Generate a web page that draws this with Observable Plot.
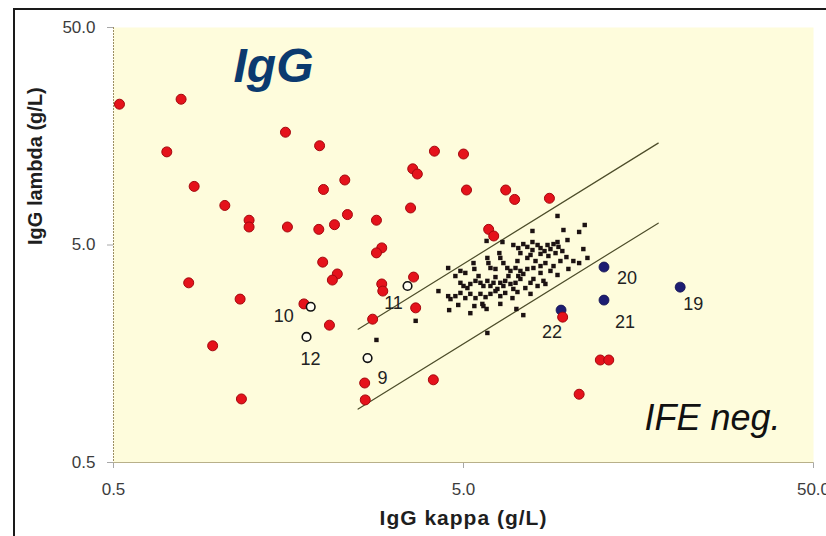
<!DOCTYPE html>
<html><head><meta charset="utf-8">
<script src="https://cdn.jsdelivr.net/npm/d3@7"></script>
<script src="https://cdn.jsdelivr.net/npm/@observablehq/plot@0.6"></script>
<style>
html,body{margin:0;padding:0;background:#fff;overflow:hidden;width:826px;height:536px;}
#wrap{position:relative;width:826px;height:536px;overflow:hidden;}
#chart{position:absolute;left:0;top:0;}
#border{position:absolute;left:13px;top:8px;width:900px;height:600px;border:2px solid #1a1a1a;box-sizing:border-box;pointer-events:none;}
#chart svg g[aria-label="x-axis"] line, #chart svg g[aria-label="y-axis"] line,
#chart svg g[aria-label="x-axis tick"] path, #chart svg g[aria-label="y-axis tick"] path {stroke:#a8a8a8;}
</style></head>
<body><div id="wrap"><div id="chart"></div><div id="border"></div></div>
<script>
// Axis ticks (g/L)
const xTicks = [0.5, 5, 50];
const yTicks = [0.5, 5, 50];
const xLabel = "IgG kappa (g/L)";
const yLabel = "IgG lambda (g/L)";
const titleText = "IgG";
const noteText = "IFE neg.";

// Reference ratio lines (kappa endpoints, lambda endpoints)
const refKappa = [2.5, 18];
const upperLambda = [2.05, 14.7];
const lowerLambda = [0.88, 6.3];

// Red points (patients)
const redKappa = [0.52,0.78,0.71,0.85,1.04,1.22,1.22,1.57,1.55,1.94,1.99,2.29,1.93,2.14,2.33,2.82,3.58,3.69,3.53,2.92,2.82,1.98,2.18,2.11,4.13,5.0,5.1,6.6,7.0,8.8,5.9,6.1,0.82,1.15,0.96,1.16,1.75,2.07,2.75,2.61,2.62,3.6,2.92,2.94,3.65,4.1,9.6,12.3,13.0,10.7];
const redLambda = [22.2,23.4,13.4,9.3,7.6,6.5,6.05,6.05,16.5,14.3,9.0,9.95,5.9,6.2,6.9,6.5,11.2,10.6,7.4,4.85,4.6,4.17,3.68,3.45,13.5,13.1,8.95,8.95,8.1,8.2,5.9,5.5,3.35,2.82,1.72,0.98,2.68,2.14,2.28,1.16,0.97,3.56,3.31,3.07,2.57,1.2,2.33,1.48,1.48,1.03];

// Blue labelled points
const blueLabels = ["19","20","21","22"];
const blueKappa = [20.8, 12.6, 12.6, 9.5];
const blueLambda = [3.2, 3.96, 2.79, 2.51];

// Open-circle labelled points
const openLabels = ["9","10","11","12"];
const openKappa = [2.66, 1.83, 3.46, 1.78];
const openLambda = [1.51, 2.6, 3.24, 1.89];

// Normal population (black squares)
const normKappa = [9.28,7.87,9.65,10.7,11.1,5.82,6.46,7.87,9.28,9.91,11.0,11.3,6.94,7.17,7.41,7.61,7.87,8.14,8.30,8.52,8.69,8.86,9.04,9.34,7.27,7.77,8.30,8.74,9.16,9.58,9.84,10.3,10.7,9.46,8.57,9.04,6.33,6.37,5.85,5.89,5.34,4.90,4.52,5.37,5.97,6.17,6.50,6.67,6.81,7.13,7.04,7.27,7.61,7.92,8.30,7.61,8.03,8.86,9.28,7.17,7.41,4.90,5.00,5.13,5.23,5.41,5.59,5.70,5.85,5.97,6.09,6.25,6.37,6.50,6.58,6.81,6.94,7.04,7.27,7.51,7.77,7.92,8.14,8.46,8.57,4.24,4.52,4.59,4.74,4.90,5.06,5.23,5.41,5.59,5.78,5.97,6.17,6.37,6.58,6.90,7.13,4.55,5.23,5.66,5.70,5.82,6.37,7.08,7.41,3.65,5.85,2.82,4.74,5.06,5.52,6.17,6.72,7.77,4.83,5.37,8.30,9.97];
const normLambda = [6.80,5.80,5.86,5.74,6.18,5.22,5.16,5.16,5.16,5.27,4.79,4.36,5.00,4.84,5.05,4.90,4.74,5.00,4.84,4.69,5.00,4.79,5.05,4.90,4.59,4.50,4.55,4.45,4.59,4.69,4.40,4.22,4.13,4.22,4.13,4.00,4.59,4.36,4.36,4.13,4.13,3.80,3.92,3.88,3.92,3.88,4.13,3.92,3.80,4.22,3.92,3.80,3.88,3.92,4.00,4.36,4.22,3.80,3.64,3.60,3.68,3.35,3.24,3.17,3.31,3.42,3.35,3.24,3.42,3.24,3.35,3.14,3.35,3.24,3.42,3.31,3.14,3.35,3.49,3.17,3.35,3.49,3.24,3.42,3.31,3.07,2.91,2.82,2.91,3.01,2.85,2.98,2.85,2.98,2.88,2.98,3.07,2.91,3.01,2.85,3.04,2.51,2.43,2.68,2.62,2.54,2.68,2.54,2.38,2.24,1.97,1.83,3.60,3.72,3.60,3.56,3.60,2.98,2.65,2.62,3.72,3.88];

// label offsets (pixels) — styling only
const labelOffsets = {"9":[15,20],"10":[-27,9],"11":[-14,17],"12":[4,22],"19":[13,17],"20":[23,11],"21":[21,22],"22":[-9,22]};

const labelMarks = (labels, ks, ls) => labels.map((lab, i) =>
  Plot.text([lab], {x: [ks[i]], y: [ls[i]], text: d => d, dx: labelOffsets[lab][0], dy: labelOffsets[lab][1],
    fontSize: 18, fill: "#222", textAnchor: "middle"}));

const chart = Plot.plot({
  width: 826, height: 536,
  marginLeft: 113, marginRight: 13, marginTop: 27, marginBottom: 74,
  style: {fontFamily: "'Liberation Sans', Arial, sans-serif", fontSize: "17px", color: "#3c3c3c", background: "transparent", overflow: "visible"},
  x: {type: "log", domain: [0.5, 50], ticks: xTicks, tickFormat: d => d.toFixed(1), tickSize: 6, tickPadding: 14, label: null},
  y: {type: "log", domain: [0.5, 50], ticks: yTicks, tickFormat: d => d.toFixed(1), tickSize: 6, tickPadding: 12, label: null},
  marks: [
    Plot.frame({fill: "#fefcdc", stroke: null}),
    Plot.ruleX([0.5], {stroke: "#9c8f62", strokeDasharray: "2,1"}),
    Plot.ruleY([0.5], {stroke: "#b8b08a"}),
    Plot.line(refKappa, {x: refKappa, y: upperLambda, stroke: "#4d4d2a", strokeWidth: 1.2}),
    Plot.line(refKappa, {x: refKappa, y: lowerLambda, stroke: "#4d4d2a", strokeWidth: 1.2}),
    Plot.dot(normKappa, {x: normKappa, y: normLambda, symbol: "square", r: 2.5, fill: "#1c1212", stroke: null}),
    Plot.dot(blueKappa, {x: blueKappa, y: blueLambda, r: 5, fill: "#1d1d72", stroke: "#141450", strokeWidth: 0.8}),
    Plot.dot(redKappa, {x: redKappa, y: redLambda, r: 5, fill: "#e5121b", stroke: "#a3080e", strokeWidth: 1}),
    Plot.dot(openKappa, {x: openKappa, y: openLambda, r: 4.3, fill: "#fffef2", stroke: "#111", strokeWidth: 1.6}),
    ...labelMarks(openLabels, openKappa, openLambda),
    ...labelMarks(blueLabels, blueKappa, blueLambda),
    Plot.text([titleText], {frameAnchor: "top-left", dx: 160, dy: 20, lineAnchor: "top", textAnchor: "middle",
      fontSize: 48, fontWeight: "bold", fontStyle: "italic", fill: "#0b3a6f"}),
    Plot.text([noteText], {frameAnchor: "bottom-right", dx: -33, dy: -44, textAnchor: "end", lineAnchor: "middle",
      fontSize: 36, fontStyle: "italic", fill: "#111"}),
    Plot.text([xLabel], {frameAnchor: "bottom", dy: 62, fontSize: 21, fontWeight: "bold", fill: "#1e1e1e"}),
    Plot.text([yLabel], {frameAnchor: "left", dx: -78, rotate: -90, fontSize: 20, fontWeight: "bold", fill: "#1e1e1e"})
  ]
});
document.getElementById("chart").appendChild(chart);
d3.select(chart).selectAll("text").filter(function(){ return this.textContent === xLabel; }).attr("letter-spacing", "1px");
</script>
</body></html>
